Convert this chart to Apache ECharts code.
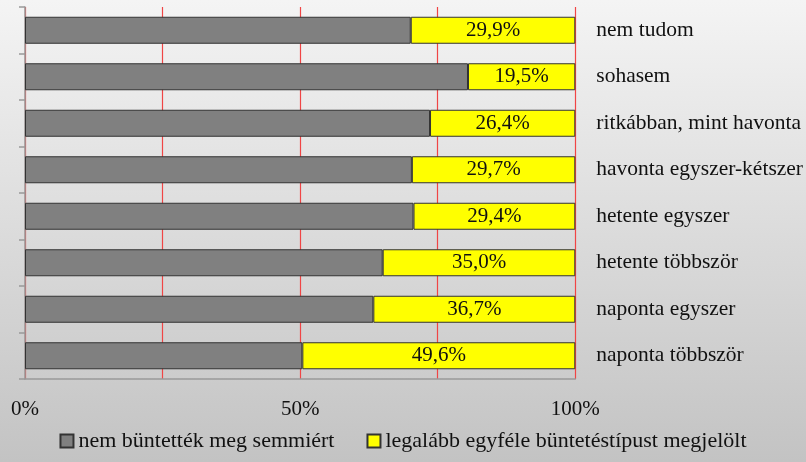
<!DOCTYPE html>
<html>
<head>
<meta charset="utf-8">
<script src="https://cdn.jsdelivr.net/npm/echarts@6/dist/echarts.min.js"></script>
<style>
  html, body { margin: 0; padding: 0; }
  #chart { width: 806px; height: 462px; }
</style>
</head>
<body>
<div id="chart"></div>
<script>
// kategóriák felülről lefelé
const categories = [
  'nem tudom',
  'sohasem',
  'ritkábban, mint havonta',
  'havonta egyszer-kétszer',
  'hetente egyszer',
  'hetente többször',
  'naponta egyszer',
  'naponta többször'
]
const nemBuntettek = [70.1, 80.5, 73.6, 70.3, 70.6, 65.0, 63.3, 50.4]
const legalabbEgy = [29.9, 19.5, 26.4, 29.7, 29.4, 35.0, 36.7, 49.6]
const xTicks = ['0%', '50%', '100%']

const font = "'Liberation Serif', 'DejaVu Serif', serif"
const fs = 21
const chart = echarts.init(document.getElementById('chart'))

chart.setOption({
  animation: false,
  backgroundColor: new echarts.graphic.LinearGradient(0, 0, 0, 1, [
    { offset: 0, color: '#f4f4f4' },
    { offset: 1, color: '#c3c3c3' }
  ]),
  textStyle: { fontFamily: font },
  grid: { left: 25, right: 230, top: 7, bottom: 83 },
  legend: {
    bottom: 5,
    left: 'center',
    icon: 'rect',
    itemWidth: 13,
    itemHeight: 13,
    itemGap: 32,
    textStyle: { fontFamily: font, fontSize: 22, color: '#111' },
    data: ['nem büntették meg semmiért', 'legalább egyféle büntetéstípust megjelölt']
  },
  xAxis: {
    type: 'value',
    min: 0,
    max: 100,
    interval: 25,
    axisLine: { show: true, lineStyle: { color: '#999', width: 1.5 } },
    axisTick: { show: false },
    axisLabel: {
      margin: 20,
      fontSize: fs,
      color: '#111',
      fontFamily: font,
      formatter: function (v) {
        const t = v + '%'
        return xTicks.indexOf(t) >= 0 ? t : ''
      }
    },
    splitLine: { show: true, lineStyle: { color: '#f04545', width: 1.2 } }
  },
  yAxis: [
    {
      type: 'category',
      inverse: true,
      data: categories,
      position: 'left',
      axisLine: { show: true, lineStyle: { color: '#999', width: 1.5 } },
      axisTick: { show: true, length: 6, lineStyle: { color: '#999', width: 1.5 } },
      axisLabel: { show: false }
    },
    {
      type: 'category',
      inverse: true,
      data: categories,
      position: 'right',
      axisLine: { show: false },
      axisTick: { show: false },
      axisLabel: {
        align: 'left',
        margin: 21,
        fontSize: 21.5,
        color: '#111',
        fontFamily: font
      }
    }
  ],
  series: [
    {
      name: 'nem büntették meg semmiért',
      type: 'bar',
      stack: 'total',
      barWidth: 27,
      data: nemBuntettek,
      itemStyle: { color: '#808080', borderColor: '#333', borderWidth: 1 }
    },
    {
      name: 'legalább egyféle büntetéstípust megjelölt',
      type: 'bar',
      stack: 'total',
      barWidth: 27,
      data: legalabbEgy,
      itemStyle: { color: '#ffff00', borderColor: '#333', borderWidth: 1 },
      label: {
        show: true,
        position: 'inside',
        fontSize: fs,
        color: '#111',
        fontFamily: font,
        formatter: function (p) {
          return p.value.toFixed(1).replace('.', ',') + '%'
        }
      }
    }
  ]
})
</script>
</body>
</html>
